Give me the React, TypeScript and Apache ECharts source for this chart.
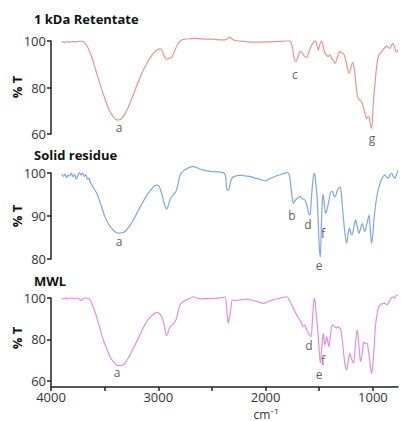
import React, { useEffect, useRef } from "react";
import * as echarts from "echarts";

const retentate: number[][] = [[3900,99.6],[3870,99.4],[3850,99.7],[3820,99.5],[3800,99.8],[3780,99.6],[3750,99.8],[3720,99.9],[3690,99.5],[3660,97.5],[3620,93],[3580,87],[3540,81],[3500,75.5],[3460,70.5],[3420,67.5],[3380,66],[3350,66.3],[3320,68],[3280,71.5],[3240,76],[3200,81],[3150,86.5],[3100,91],[3050,94.5],[3000,96.5],[2980,96.6],[2960,95.5],[2940,93],[2920,92.1],[2900,92.6],[2875,93],[2850,95.5],[2820,98.5],[2790,100.2],[2750,100.8],[2700,101],[2650,101.1],[2600,100.9],[2550,100.8],[2500,100.8],[2450,100.6],[2400,100.5],[2370,100.6],[2345,101.4],[2330,101.6],[2310,100.8],[2280,100.2],[2200,99.8],[2100,99.5],[2000,99.6],[1900,99.8],[1800,100],[1775,100],[1755,98.3],[1735,93],[1717,91.1],[1700,93],[1680,95.4],[1660,95],[1640,93.5],[1617,93],[1595,95.5],[1570,98.3],[1545,99.8],[1533,100.1],[1520,98],[1509,96.1],[1495,98.5],[1478,100],[1465,98],[1456,96],[1435,94],[1416,93.3],[1400,94.2],[1384,92.5],[1370,91.8],[1353,90.4],[1330,93],[1307,95.4],[1290,95],[1267,94],[1245,90],[1223,86.1],[1205,88.5],[1188,90.8],[1170,87],[1155,80],[1137,75.3],[1120,74.5],[1105,73.9],[1080,70],[1058,66.7],[1045,67.5],[1036,67.4],[1025,64.5],[1012,62.4],[1000,70],[990,77],[980,81.8],[965,89],[950,93.3],[935,94.5],[918,95.4],[895,96.8],[871,97.8],[855,97.2],[841,96.8],[828,98],[816,99],[800,97.5],[785,95.5],[778,95.4],[766,96.4]];

const solidResidue: number[][] = [[3900,99.8],[3885,99.2],[3870,99.7],[3855,98.9],[3840,99.5],[3825,99.3],[3810,100],[3795,99.1],[3780,99.6],[3765,98.6],[3750,99.4],[3735,100.1],[3720,99.5],[3705,100],[3690,99.2],[3675,99.6],[3660,98.5],[3645,98.8],[3637,98],[3610,96.8],[3574,95.3],[3540,93],[3497,89.8],[3465,88.2],[3434,87.1],[3400,86.3],[3373,86],[3340,86.1],[3310,86.4],[3270,87.6],[3230,89.2],[3201,90.6],[3150,93],[3093,95.3],[3050,96.6],[3021,97.2],[2995,97],[2984,96.4],[2960,94.5],[2940,92.5],[2922,91.6],[2905,92.6],[2891,93.7],[2860,95],[2835,95.7],[2815,97.5],[2798,99.5],[2760,100.6],[2720,101.2],[2674,101.5],[2620,101],[2549,100.5],[2480,100.3],[2394,100.1],[2375,99.5],[2363,96.5],[2352,96],[2341,96.3],[2320,98.5],[2301,99.1],[2260,99.4],[2223,99.5],[2190,99.3],[2150,99.2],[2100,98.8],[2050,98.5],[2006,98.2],[1950,98.8],[1900,99.3],[1850,99.7],[1804,100.1],[1782,99.8],[1765,97],[1750,94],[1742,93],[1730,93.4],[1715,93.9],[1700,94.2],[1679,94.5],[1660,94],[1645,93.9],[1633,93.7],[1615,92.5],[1600,90.8],[1586,90.2],[1575,93.5],[1560,98],[1548,99.9],[1540,99.6],[1530,97],[1520,94.5],[1510,89],[1500,83],[1490,80.5],[1480,88],[1470,94],[1462,94.9],[1450,92],[1440,90.6],[1430,91.2],[1410,93.5],[1395,95.5],[1378,95.7],[1365,94.8],[1353,94.5],[1330,96],[1307,96.8],[1295,95.5],[1280,91],[1265,87],[1245,83.6],[1230,86],[1218,87.1],[1205,86],[1195,85.6],[1180,87],[1161,89.1],[1145,87.5],[1130,86],[1115,87],[1100,88.3],[1085,87],[1075,86.4],[1058,88],[1036,90.2],[1025,87],[1012,83.6],[1000,86],[990,89.1],[975,92.5],[960,95],[943,96.8],[920,98.5],[890,99.5],[870,99],[858,98.8],[842,99.5],[826,100],[810,99.2],[795,98.8],[780,99.6],[766,100.6]];

const mwl: number[][] = [[3900,99.8],[3880,99.6],[3860,99.9],[3840,99.7],[3820,100],[3800,99.9],[3780,99.7],[3760,100],[3740,99.8],[3720,98.7],[3700,99.8],[3680,100],[3660,99.8],[3643,99.5],[3620,97.5],[3590,93.4],[3550,86.5],[3513,79.8],[3480,75.5],[3450,71.7],[3410,68.8],[3373,67.4],[3340,67.5],[3310,68.6],[3270,72],[3217,77.4],[3160,83.5],[3109,88.6],[3060,91.5],[3015,93.1],[2990,92.5],[2968,91],[2945,87],[2922,81.8],[2905,84],[2890,86.2],[2860,87.5],[2835,89.5],[2815,93.5],[2798,96.6],[2760,98.5],[2720,99.5],[2674,100.6],[2640,100],[2600,99.6],[2550,99.7],[2500,99.8],[2450,99.9],[2400,100.2],[2378,100.6],[2365,96],[2355,90],[2348,87.8],[2340,90],[2330,92.6],[2320,96.5],[2310,99],[2270,98.8],[2230,99.2],[2180,99.5],[2120,98.8],[2060,98],[2021,97.4],[1980,98.2],[1940,99],[1900,99.5],[1850,100.2],[1804,100.6],[1780,99],[1760,97],[1740,95],[1710,91.8],[1690,90],[1670,88.5],[1649,86.2],[1635,87],[1620,85],[1600,83],[1590,82],[1577,81.4],[1565,88],[1555,96],[1546,99.9],[1538,98],[1530,93],[1520,88.6],[1505,78],[1495,71],[1487,68.6],[1480,74],[1470,80],[1462,83],[1455,80],[1448,77.4],[1440,79],[1430,81.4],[1420,79],[1410,76.5],[1398,81],[1385,86],[1370,87],[1355,86],[1340,85.6],[1325,86.2],[1310,85.5],[1300,85],[1285,80],[1270,72],[1257,67],[1245,65.3],[1235,68],[1225,71],[1215,73.3],[1205,71.5],[1190,69.5],[1180,68.6],[1170,73],[1160,79],[1150,83.5],[1145,84.6],[1135,80],[1125,74],[1115,69.3],[1105,71.5],[1095,75],[1085,78.9],[1070,78],[1055,78.2],[1045,76],[1030,70],[1020,65.5],[1012,63.7],[1000,68],[990,75],[978,85.4],[965,91],[950,95],[930,96.8],[910,97.3],[890,97.5],[875,96.8],[860,97.2],[845,98.5],[830,100],[815,100.6],[800,99.8],[785,101],[770,101.6]];

const retentateLabels: (number | string)[][] = [[3366, 63.0, "a"], [1726, 85.8, "c"], [1008, 57.9, "g"]];
const solidLabels: (number | string)[][] = [[3366, 84.0, "a"], [1754, 90.2, "b"], [1605, 88.1, "d"], [1465, 86.0, "f"], [1502, 78.6, "e"]];
const mwlLabels: (number | string)[][] = [[3385, 63.9, "a"], [1596, 76.9, "d"], [1465, 70.1, "f"], [1502, 62.9, "e"]];

const panelTitles = ["1 kDa Retentate", "Solid residue", "MWL"];
const yRanges = [[60, 100], [80, 100], [57.1, 100]];
const yTicks = [[60, 80, 100], [80, 90, 100], [60, 80, 100]];
const xTicks = [1000, 1500, 2000, 2500, 3000, 3500, 4000];
const xLabels = [1000, 2000, 3000, 4000];
const colors = ["#e9958c", "#7ea6e4", "#e68ee4"];

const FONT = "Open Sans";

export default function App() {
  const ref = useRef<HTMLDivElement>(null);
  useEffect(() => {
    if (!ref.current) return;
    const chart = echarts.init(ref.current, undefined, { renderer: "svg" });
    const grids = [
      { left: 51, right: 3, top: 41, height: 93 },
      { left: 51, right: 3, top: 173, height: 86 },
      { left: 51, right: 3, top: 298, height: 89 },
    ];
    const datasets = [retentate, solidResidue, mwl];
    const labelSets = [retentateLabels, solidLabels, mwlLabels];
    const xAxes = grids.map((_, i) => ({
      type: "value",
      gridIndex: i,
      min: 766,
      max: 4000,
      inverse: true,
      show: i === 2,
      axisLine: { show: true, onZero: false, lineStyle: { color: "#222", width: 1.5 } },
      axisTick: { show: true, customValues: xTicks, length: 4, lineStyle: { color: "#222", width: 1.5 } },
      axisLabel: {
        show: true,
        customValues: xLabels,
        formatter: (v: number) => String(v),
        color: "#333",
        fontSize: 13,
        fontFamily: FONT,
        margin: 3,
      },
      splitLine: { show: false },
    }));
    const yAxes = grids.map((_, i) => ({
      type: "value",
      gridIndex: i,
      min: yRanges[i][0],
      max: yRanges[i][1],
      axisLine: { show: true, lineStyle: { color: "#222", width: 1.5 } },
      axisTick: { show: true, customValues: yTicks[i], length: 4, lineStyle: { color: "#222", width: 1.5 } },
      axisLabel: {
        customValues: yTicks[i],
        formatter: (v: number) => String(v),
        color: "#333",
        fontSize: 13,
        fontFamily: FONT,
        margin: 5,
      },
      splitLine: { show: false },
    }));
    const series: any[] = [];
    datasets.forEach((d, i) => {
      series.push({
        type: "line",
        xAxisIndex: i,
        yAxisIndex: i,
        data: d,
        showSymbol: false,
        smooth: 0.3,
        clip: false,
        lineStyle: { color: colors[i], width: 1.2 },
      });
      series.push({
        type: "scatter",
        xAxisIndex: i,
        yAxisIndex: i,
        data: labelSets[i],
        symbolSize: 1,
        clip: false,
        itemStyle: { color: "rgba(0,0,0,0)" },
        label: {
          show: true,
          position: "inside",
          formatter: (p: any) => p.data[2],
          color: "#333",
          fontSize: 12,
          fontFamily: FONT,
        },
      });
    });
    const titleY = [21, 157, 283];
    const pctY = [87, 216, 338];
    const graphic: any[] = [];
    panelTitles.forEach((t, i) => {
      graphic.push({
        type: "text",
        left: 34,
        top: titleY[i] - 9,
        style: { text: t, font: `bold 13px "${FONT}"`, fill: "#111" },
      });
      graphic.push({
        type: "text",
        x: 17,
        y: pctY[i],
        rotation: Math.PI / 2,
        style: { text: "% T", font: `bold 13px "${FONT}"`, fill: "#111", align: "center", verticalAlign: "middle" },
      });
    });
    graphic.push({
      type: "text",
      x: 266,
      y: 414,
      style: { text: "cm⁻¹", font: `12px "${FONT}"`, fill: "#333", align: "center", verticalAlign: "middle" },
    });
    chart.setOption({
      animation: false,
      backgroundColor: "#fff",
      grid: grids,
      xAxis: xAxes,
      yAxis: yAxes,
      series,
      graphic,
    });
    return () => chart.dispose();
  }, []);
  return <div ref={ref} style={{ width: 401, height: 421, position: "absolute", left: 0, top: 0 }} />;
}
